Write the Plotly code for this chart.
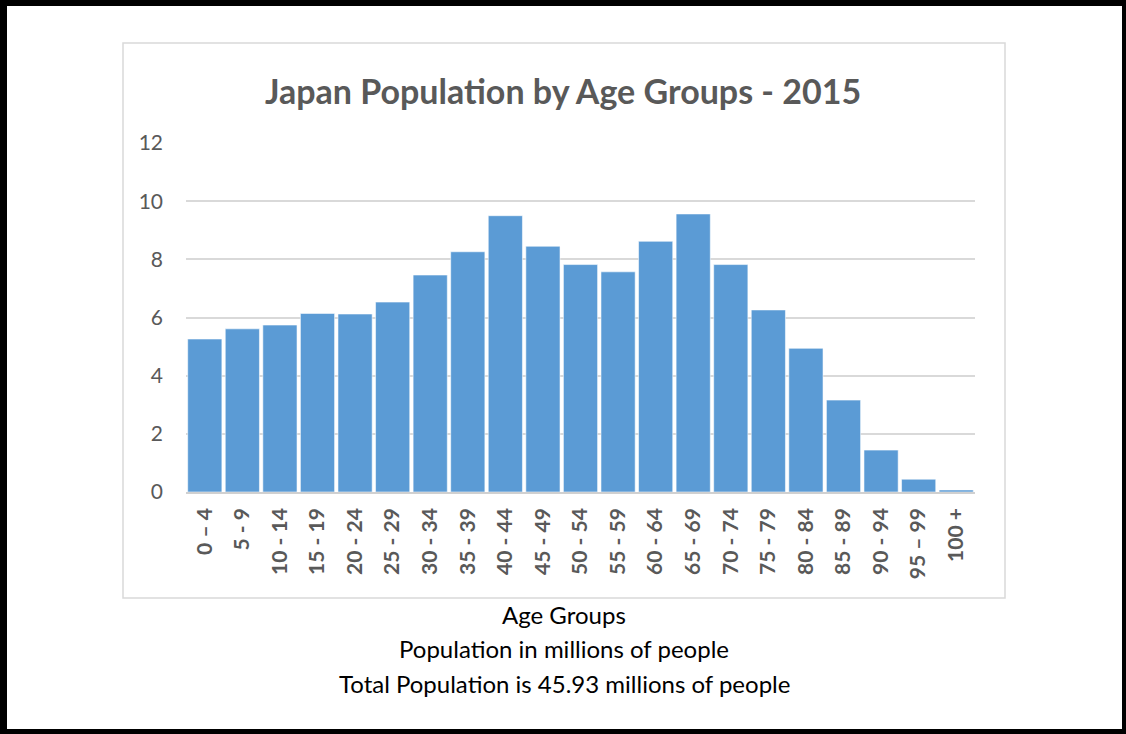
import plotly.graph_objects as go

W, H = 1126, 734

age_groups = ["0 – 4", "5 - 9", "10 - 14", "15 - 19", "20 - 24", "25 - 29", "30 - 34",
              "35 - 39", "40 - 44", "45 - 49", "50 - 54", "55 - 59", "60 - 64", "65 - 69",
              "70 - 74", "75 - 79", "80 - 84", "85 - 89", "90 - 94", "95 – 99", "100 +"]
population_millions = [5.26, 5.61, 5.74, 6.14, 6.12, 6.53, 7.46, 8.26, 9.50, 8.45, 7.82,
                       7.57, 8.62, 9.56, 7.82, 6.26, 4.94, 3.16, 1.44, 0.44, 0.07]
y_ticks = [0, 2, 4, 6, 8, 10, 12]

title_text = "Japan Population by Age Groups - 2015"
caption_lines = ["Age Groups",
                 "Population in millions of people",
                 "Total Population is 45.93 millions of people"]

FONT = "Lato"
GRAY = "#595959"


def px_x(x):
    return x / W


def px_y(y):
    return 1 - y / H


fig = go.Figure(go.Bar(
    x=age_groups,
    y=population_millions,
    marker=dict(color="#5B9BD5", line=dict(color="rgba(255,255,255,0.55)", width=1)),
))

shapes = [
    # inner chart frame
    dict(type="rect", xref="paper", yref="paper",
         x0=px_x(123), x1=px_x(1005), y0=px_y(598), y1=px_y(43),
         line=dict(color="#D9D9D9", width=1.5), layer="below"),
    # outer black border
    dict(type="rect", xref="paper", yref="paper", x0=0, x1=px_x(7), y0=0, y1=1,
         fillcolor="black", line=dict(width=0)),
    dict(type="rect", xref="paper", yref="paper", x0=px_x(1122), x1=1, y0=0, y1=1,
         fillcolor="black", line=dict(width=0)),
    dict(type="rect", xref="paper", yref="paper", x0=0, x1=1, y0=px_y(6), y1=1,
         fillcolor="black", line=dict(width=0)),
    dict(type="rect", xref="paper", yref="paper", x0=0, x1=1, y0=0, y1=px_y(729),
         fillcolor="black", line=dict(width=0)),
]

annotations = [
    dict(text=title_text, xref="paper", yref="paper", x=px_x(563), y=px_y(90),
         xanchor="center", yanchor="middle", showarrow=False,
         font=dict(family=FONT, size=34, color=GRAY, weight="bold")),
]
for i, line in enumerate(caption_lines):
    annotations.append(dict(text=line, xref="paper", yref="paper",
                            x=px_x(564), y=px_y(614 + 34.5 * i),
                            xanchor="center", yanchor="middle", showarrow=False,
                            font=dict(family=FONT, size=24, color="black")))

fig.update_layout(
    width=W, height=H,
    margin=dict(l=0, r=0, t=0, b=0, pad=0, autoexpand=False),
    paper_bgcolor="white", plot_bgcolor="white",
    showlegend=False,
    bargap=0.09,
    shapes=shapes,
    annotations=annotations,
    xaxis=dict(domain=[px_x(186), px_x(975)], tickangle=-90, automargin=False,
               tickfont=dict(family=FONT, size=21, color=GRAY, weight="bold"),
               showline=True, linecolor="#D0D0D0", linewidth=1.5,
               showgrid=False, ticks="", ticklabelstandoff=6),
    yaxis=dict(domain=[px_y(492), px_y(143)], range=[0, 12], tickvals=y_ticks,
               automargin=False,
               tickfont=dict(family=FONT, size=21, color=GRAY),
               gridcolor="#D9D9D9", gridwidth=2, zeroline=False,
               showline=False, ticks="", ticklabelstandoff=22),
)

fig.write_html("out.html",
               post_script="document.body.style.margin='0';document.body.style.padding='0';")
